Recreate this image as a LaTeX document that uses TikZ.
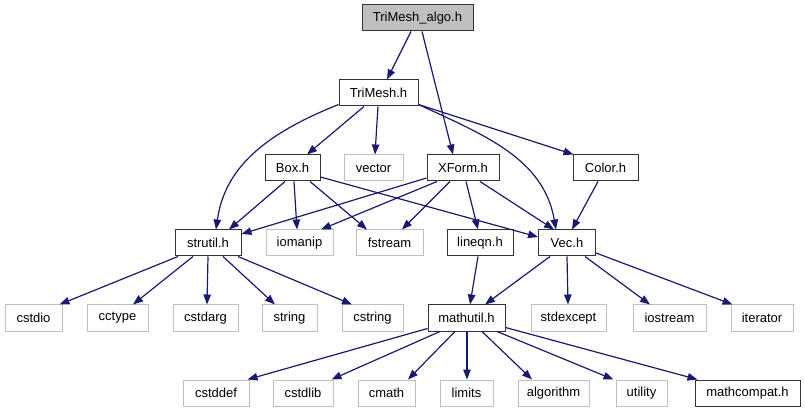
\documentclass[tikz,border=0pt]{standalone}
\usepackage{fontspec}
\setmainfont{Liberation Sans}
\usetikzlibrary{arrows.meta}
\definecolor{edgec}{HTML}{191970}
\definecolor{grayb}{HTML}{BFBFBF}
\tikzset{
  fbox/.style={draw=black!80, line width=1pt, fill=white, inner sep=0pt, minimum height=26pt,
    font=\fontsize{13}{15}\selectfont},
  sbox/.style={fbox, draw=grayb},
  topbox/.style={fbox, fill=grayb},
  dep/.style={draw=edgec, line width=1.2pt, -{Triangle[length=10pt,width=7.5pt]}, color=edgec},
}
\begin{document}
\begin{tikzpicture}[x=1pt,y=-1pt]
\useasboundingbox (0,0) rectangle (805,411);
% row 1
\node[topbox, minimum width=111pt] (algo) at (417.5,18) {TriMesh\_algo.h};
% row 2
\node[fbox, minimum width=79pt] (trimesh) at (378.5,93) {TriMesh.h};
% row 3
\node[fbox, minimum width=55pt] (box) at (292.5,168) {Box.h};
\node[sbox, minimum width=59pt] (vector) at (373.5,168) {vector};
\node[fbox, minimum width=72pt] (xform) at (463,168) {XForm.h};
\node[fbox, minimum width=65pt] (color) at (605.5,168) {Color.h};
% row 4
\node[fbox, minimum width=66pt] (strutil) at (208,243) {strutil.h};
\node[sbox, minimum width=67pt] (iomanip) at (299.5,243) {iomanip};
\node[sbox, minimum width=67pt] (fstream) at (389.5,243) {fstream};
\node[fbox, minimum width=66pt] (lineqn) at (480,243) {lineqn.h};
\node[fbox, minimum width=57pt] (vec) at (567,243) {Vec.h};
% row 5
\node[sbox, minimum width=57pt] (cstdio) at (33.5,318) {cstdio};
\node[sbox, minimum width=61pt] (cctype) at (117.5,318) {cctype};
\node[sbox, minimum width=65pt] (cstdarg) at (205.5,318) {cstdarg};
\node[sbox, minimum width=55pt] (string) at (289.5,318) {string};
\node[sbox, minimum width=61pt] (cstring) at (372.5,318) {cstring};
\node[fbox, minimum width=77pt] (mathutil) at (466.5,318) {mathutil.h};
\node[sbox, minimum width=75pt] (stdexcept) at (568.5,318) {stdexcept};
\node[sbox, minimum width=73pt] (iostream) at (669.5,318) {iostream};
\node[sbox, minimum width=62pt] (iterator) at (762,318) {iterator};
% row 6
\node[sbox, minimum width=66pt] (cstddef) at (216,393) {cstddef};
\node[sbox, minimum width=60pt] (cstdlib) at (303,393) {cstdlib};
\node[sbox, minimum width=57pt] (cmath) at (386.5,393) {cmath};
\node[sbox, minimum width=53pt] (limits) at (466.5,393) {limits};
\node[sbox, minimum width=71pt] (algorithm) at (553.5,393) {algorithm};
\node[sbox, minimum width=51pt] (utility) at (641.5,393) {utility};
\node[fbox, minimum width=105pt] (mathcompat) at (747.5,393) {mathcompat.h};
% edges
\draw[dep] ([xshift=-6.5pt]algo.south) -- ([xshift=8.5pt]trimesh.north);
\draw[dep] ([xshift=4.5pt]algo.south) -- ([xshift=-10pt]xform.north);
\draw[dep] ([yshift=2pt]trimesh.south west) to[out=202,in=82] ([xshift=8pt]strutil.north);
\draw[dep] ([xshift=-14.5pt]trimesh.south) -- ([xshift=14.5pt]box.north);
\draw[dep] ([xshift=-0.5pt]trimesh.south) -- ([xshift=1.5pt]vector.north);
\draw[dep] ([yshift=2pt]trimesh.south east) to[out=-25,in=100] ([xshift=-11pt]vec.north);
\draw[dep] ([yshift=2pt]trimesh.south east) -- ([xshift=1pt]color.north west);
\draw[dep] ([xshift=-7.5pt]box.south) -- ([xshift=21pt]strutil.north);
\draw[dep] ([xshift=1.5pt]box.south) -- ([xshift=-2.5pt]iomanip.north);
\draw[dep] ([xshift=17.5pt]box.south) -- ([xshift=-22.5pt]fstream.north);
\draw[dep] ([yshift=-9pt]box.east) -- ([yshift=6pt]vec.west);
\draw[dep] ([yshift=-10pt]xform.west) -- ([yshift=9pt]strutil.east);
\draw[dep] ([xshift=-26pt]xform.south) -- ([xshift=21.5pt]iomanip.north);
\draw[dep] ([xshift=-13pt]xform.south) -- ([xshift=12.5pt]fstream.north);
\draw[dep] ([xshift=3pt]xform.south) -- ([xshift=-2pt]lineqn.north);
\draw[dep] ([xshift=17pt]xform.south) -- ([xshift=-13pt]vec.north);
\draw[dep] ([xshift=-7.5pt]color.south) -- ([xshift=5pt]vec.north);
\draw[dep] ([xshift=-30pt]strutil.south) -- ([xshift=-3pt]cstdio.north east);
\draw[dep] ([xshift=-15pt]strutil.south) -- ([xshift=15.5pt]cctype.north);
\draw[dep] (strutil.south) -- ([xshift=1.5pt]cstdarg.north);
\draw[dep] ([xshift=15pt]strutil.south) -- ([xshift=-14.5pt]string.north);
\draw[dep] ([xshift=30pt]strutil.south) -- ([xshift=-20.5pt]cstring.north);
\draw[dep] ([xshift=-2pt]lineqn.south) -- ([xshift=3.5pt]mathutil.north);
\draw[dep] ([xshift=-17pt]vec.south) -- ([xshift=18.5pt]mathutil.north);
\draw[dep] (vec.south) -- ([xshift=-0.5pt]stdexcept.north);
\draw[dep] ([xshift=18pt]vec.south) -- ([xshift=-19.5pt]iostream.north);
\draw[dep] ([yshift=-10pt]vec.east) -- ([xshift=2pt]iterator.north west);
\draw[dep] ([yshift=3pt]mathutil.south west) -- ([xshift=-2pt]cstddef.north east);
\draw[dep] ([xshift=-26.5pt]mathutil.south) -- ([xshift=-2pt]cstdlib.north east);
\draw[dep] ([xshift=-11.5pt]mathutil.south) -- ([xshift=21.5pt]cmath.north);
\draw[dep] ([xshift=0.5pt]mathutil.south) -- ([xshift=0.5pt]limits.north);
\draw[dep] ([xshift=15.5pt]mathutil.south) -- ([xshift=-21.5pt]algorithm.north);
\draw[dep] ([xshift=30.5pt]mathutil.south) -- ([xshift=-2pt]utility.north west);
\draw[dep] ([yshift=4pt]mathutil.south east) -- ([xshift=3pt]mathcompat.north west);
\end{tikzpicture}
\end{document}
